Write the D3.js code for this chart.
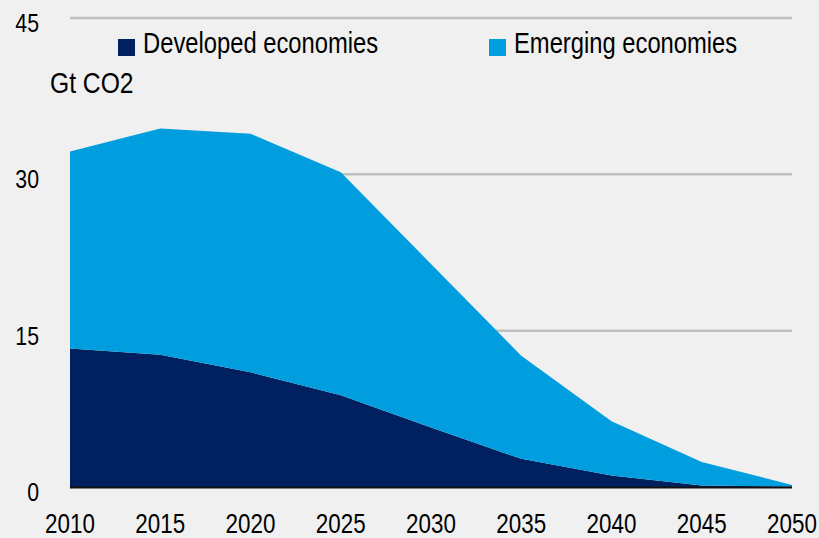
<!DOCTYPE html>
<html>
    <head>
        <title>CO2 emissions by economy group</title>
        <meta charset="UTF-8">
        <script type="text/javascript" src="https://cdn.jsdelivr.net/npm/d3@7"></script>
        <style type="text/css">
            body { margin: 0; background: #f0f0f0; }
            text { font-family: "Liberation Sans", Arial, sans-serif; fill: #000; }
        </style>
    </head>
    <body>
        <div id="chart"></div>
        <script type="text/javascript">

            var svgW = 819;
            var svgH = 538;

            // data (Gt CO2)
            var years = [2010, 2015, 2020, 2025, 2030, 2035, 2040, 2045, 2050];
            var developed = [13.3, 12.7, 11.0, 8.8, 5.7, 2.7, 1.1, 0.15, 0.05];
            var emerging = [18.9, 21.7, 22.9, 21.4, 15.7, 9.9, 5.2, 2.25, 0.15];
            var seriesNames = ["Developed economies", "Emerging economies"];
            var seriesColors = ["#002060", "#009ede"];
            var yTicks = [0, 15, 30, 45];
            var unitLabel = "Gt CO2";

            var x = d3.scaleLinear().domain([2010, 2050]).range([70, 792]);
            var y = d3.scaleLinear().domain([0, 45]).range([487, 18]);

            var rows = years.map(function (yr, i) {
                return {year: yr, dev: developed[i], emg: emerging[i]};
            });
            var layers = d3.stack().keys(["dev", "emg"])(rows);

            var svg = d3.select("#chart").append("svg")
                    .attr("width", svgW)
                    .attr("height", svgH)
                    .style("background", "#f0f0f0");

            // the original font is a condensed sans, so squeeze text horizontally
            function squeeze(px, py, s) {
                return "translate(" + px + "," + py + ") scale(" + s + ",1)";
            }

            // gridlines
            svg.append("g").selectAll("line")
                    .data(yTicks.filter(function (d) { return d > 0; }))
                    .enter()
                    .append("line")
                    .attr("x1", x(2010))
                    .attr("x2", x(2050))
                    .attr("y1", function (d) { return y(d); })
                    .attr("y2", function (d) { return y(d); })
                    .attr("stroke", "#bfbfbf")
                    .attr("stroke-width", 2.5);

            // stacked areas
            var area = d3.area()
                    .x(function (d) { return x(d.data.year); })
                    .y0(function (d) { return y(d[0]); })
                    .y1(function (d) { return y(d[1]); });

            svg.append("g").selectAll("path")
                    .data(layers)
                    .enter()
                    .append("path")
                    .attr("d", area)
                    .attr("fill", function (d, i) { return seriesColors[i]; });

            // x axis line
            svg.append("line")
                    .attr("x1", x(2010))
                    .attr("x2", x(2050))
                    .attr("y1", y(0) + 0.5)
                    .attr("y2", y(0) + 0.5)
                    .attr("stroke", "#111")
                    .attr("stroke-width", 2);

            // y tick labels
            svg.append("g").selectAll("text")
                    .data(yTicks)
                    .enter()
                    .append("text")
                    .attr("transform", function (d) { return squeeze(39, y(d) + 14, 0.85); })
                    .attr("text-anchor", "end")
                    .style("font-size", "25px")
                    .text(function (d) { return d; });

            // x tick labels
            svg.append("g").selectAll("text")
                    .data(years)
                    .enter()
                    .append("text")
                    .attr("transform", function (d) { return squeeze(x(d), 533, 0.8); })
                    .attr("text-anchor", "middle")
                    .style("font-size", "28px")
                    .text(function (d) { return d; });

            // unit label
            svg.append("text")
                    .attr("transform", squeeze(50, 93, 0.85))
                    .style("font-size", "29px")
                    .text(unitLabel);

            // legend
            var legendX = [118, 489];
            var legend = svg.append("g").selectAll("g")
                    .data(seriesNames)
                    .enter()
                    .append("g")
                    .attr("transform", function (d, i) { return "translate(" + legendX[i] + ",39)"; });
            legend.append("rect")
                    .attr("width", 17)
                    .attr("height", 17)
                    .attr("fill", function (d, i) { return seriesColors[i]; });
            legend.append("text")
                    .attr("transform", squeeze(25, 14, 0.82))
                    .style("font-size", "29px")
                    .text(function (d) { return d; });
        </script>
    </body>
</html>
